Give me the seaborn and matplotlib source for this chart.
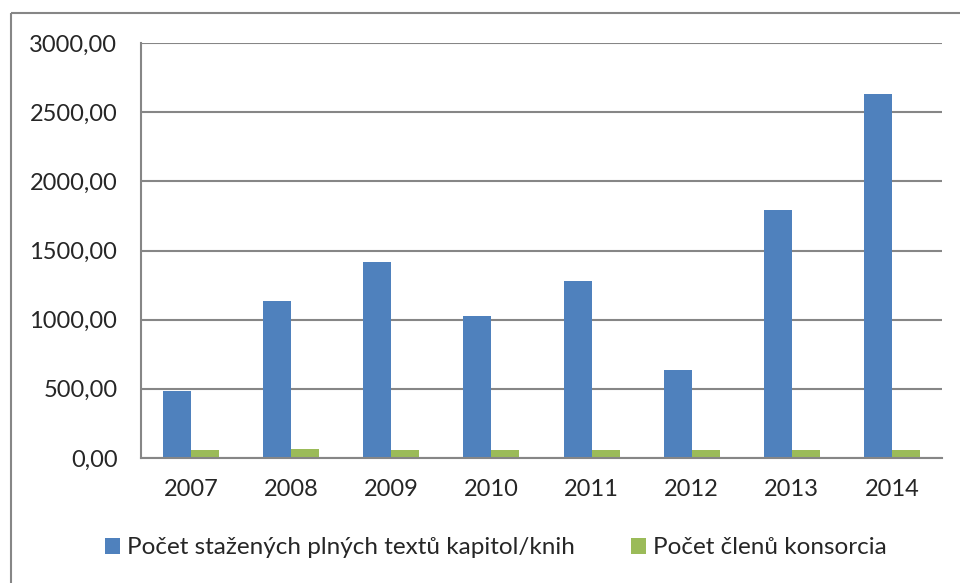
import pandas as pd
import seaborn as sns
import matplotlib.pyplot as plt
from matplotlib.ticker import FuncFormatter, FixedLocator
from matplotlib.patches import Rectangle

# --- DATA ---
years = ["2007", "2008", "2009", "2010", "2011", "2012", "2013", "2014"]
downloads = [486, 1133, 1419, 1024, 1277, 635, 1791, 2633]
members = [60, 67, 59, 59, 59, 59, 59, 60]
series_names = ["Počet stažených plných textů kapitol/knih", "Počet členů konsorcia"]
colors = ["#4F81BD", "#9BBB59"]
grey = "#868686"

df = pd.DataFrame({
    "year": years * 2,
    "value": downloads + members,
    "series": [series_names[0]] * len(years) + [series_names[1]] * len(years),
})

sns.set_style("white")
plt.rcParams["font.family"] = ["Lato", "DejaVu Sans"]

fig = plt.figure(figsize=(9.6, 5.83), dpi=100)
# outer chart border (only top/left visible in the reference)
fig.patches.append(Rectangle((11 / 960, 1 - 13 / 583), 2, -2, transform=fig.transFigure,
                             fill=False, edgecolor=grey, linewidth=1.5))
ax = fig.add_axes([141 / 960, 1 - 458 / 583, 801 / 960, 415 / 583])

sns.barplot(data=df, x="year", y="value", hue="series", palette=colors,
            width=0.56, saturation=1, linewidth=0, ax=ax)

ax.set_ylim(0, 3000)
ax.set_xlim(-0.5, len(years) - 0.5)
ax.set_yticks(range(0, 3001, 500))
ax.yaxis.set_major_formatter(FuncFormatter(lambda v, p: f"{v:.2f}".replace(".", ",")))
ax.grid(axis="y", color=grey, linewidth=1.5)
ax.set_axisbelow(True)
ax.set_xlabel("")
ax.set_ylabel("")

for s in ["top", "right"]:
    ax.spines[s].set_visible(False)
for s in ["left", "bottom"]:
    ax.spines[s].set_color(grey)
    ax.spines[s].set_linewidth(1.5)

ax.xaxis.set_minor_locator(FixedLocator([i - 0.5 for i in range(len(years) + 1)]))
ax.tick_params(axis="x", which="major", length=0, pad=15, labelsize=17)
ax.tick_params(axis="x", which="minor", length=6, width=1.5, color=grey, direction="out")
ax.tick_params(axis="y", length=6, width=1.5, color=grey, direction="out", pad=11, labelsize=17)

ax.legend(loc="center", bbox_to_anchor=(496 / 960, (583 - 548) / 583), bbox_transform=fig.transFigure,
          ncol=2, frameon=False, fontsize=17.5, handlelength=0.6, handleheight=0.6,
          handletextpad=0.3, columnspacing=2.3, borderaxespad=0)

plt.savefig("out.png", dpi=100)
